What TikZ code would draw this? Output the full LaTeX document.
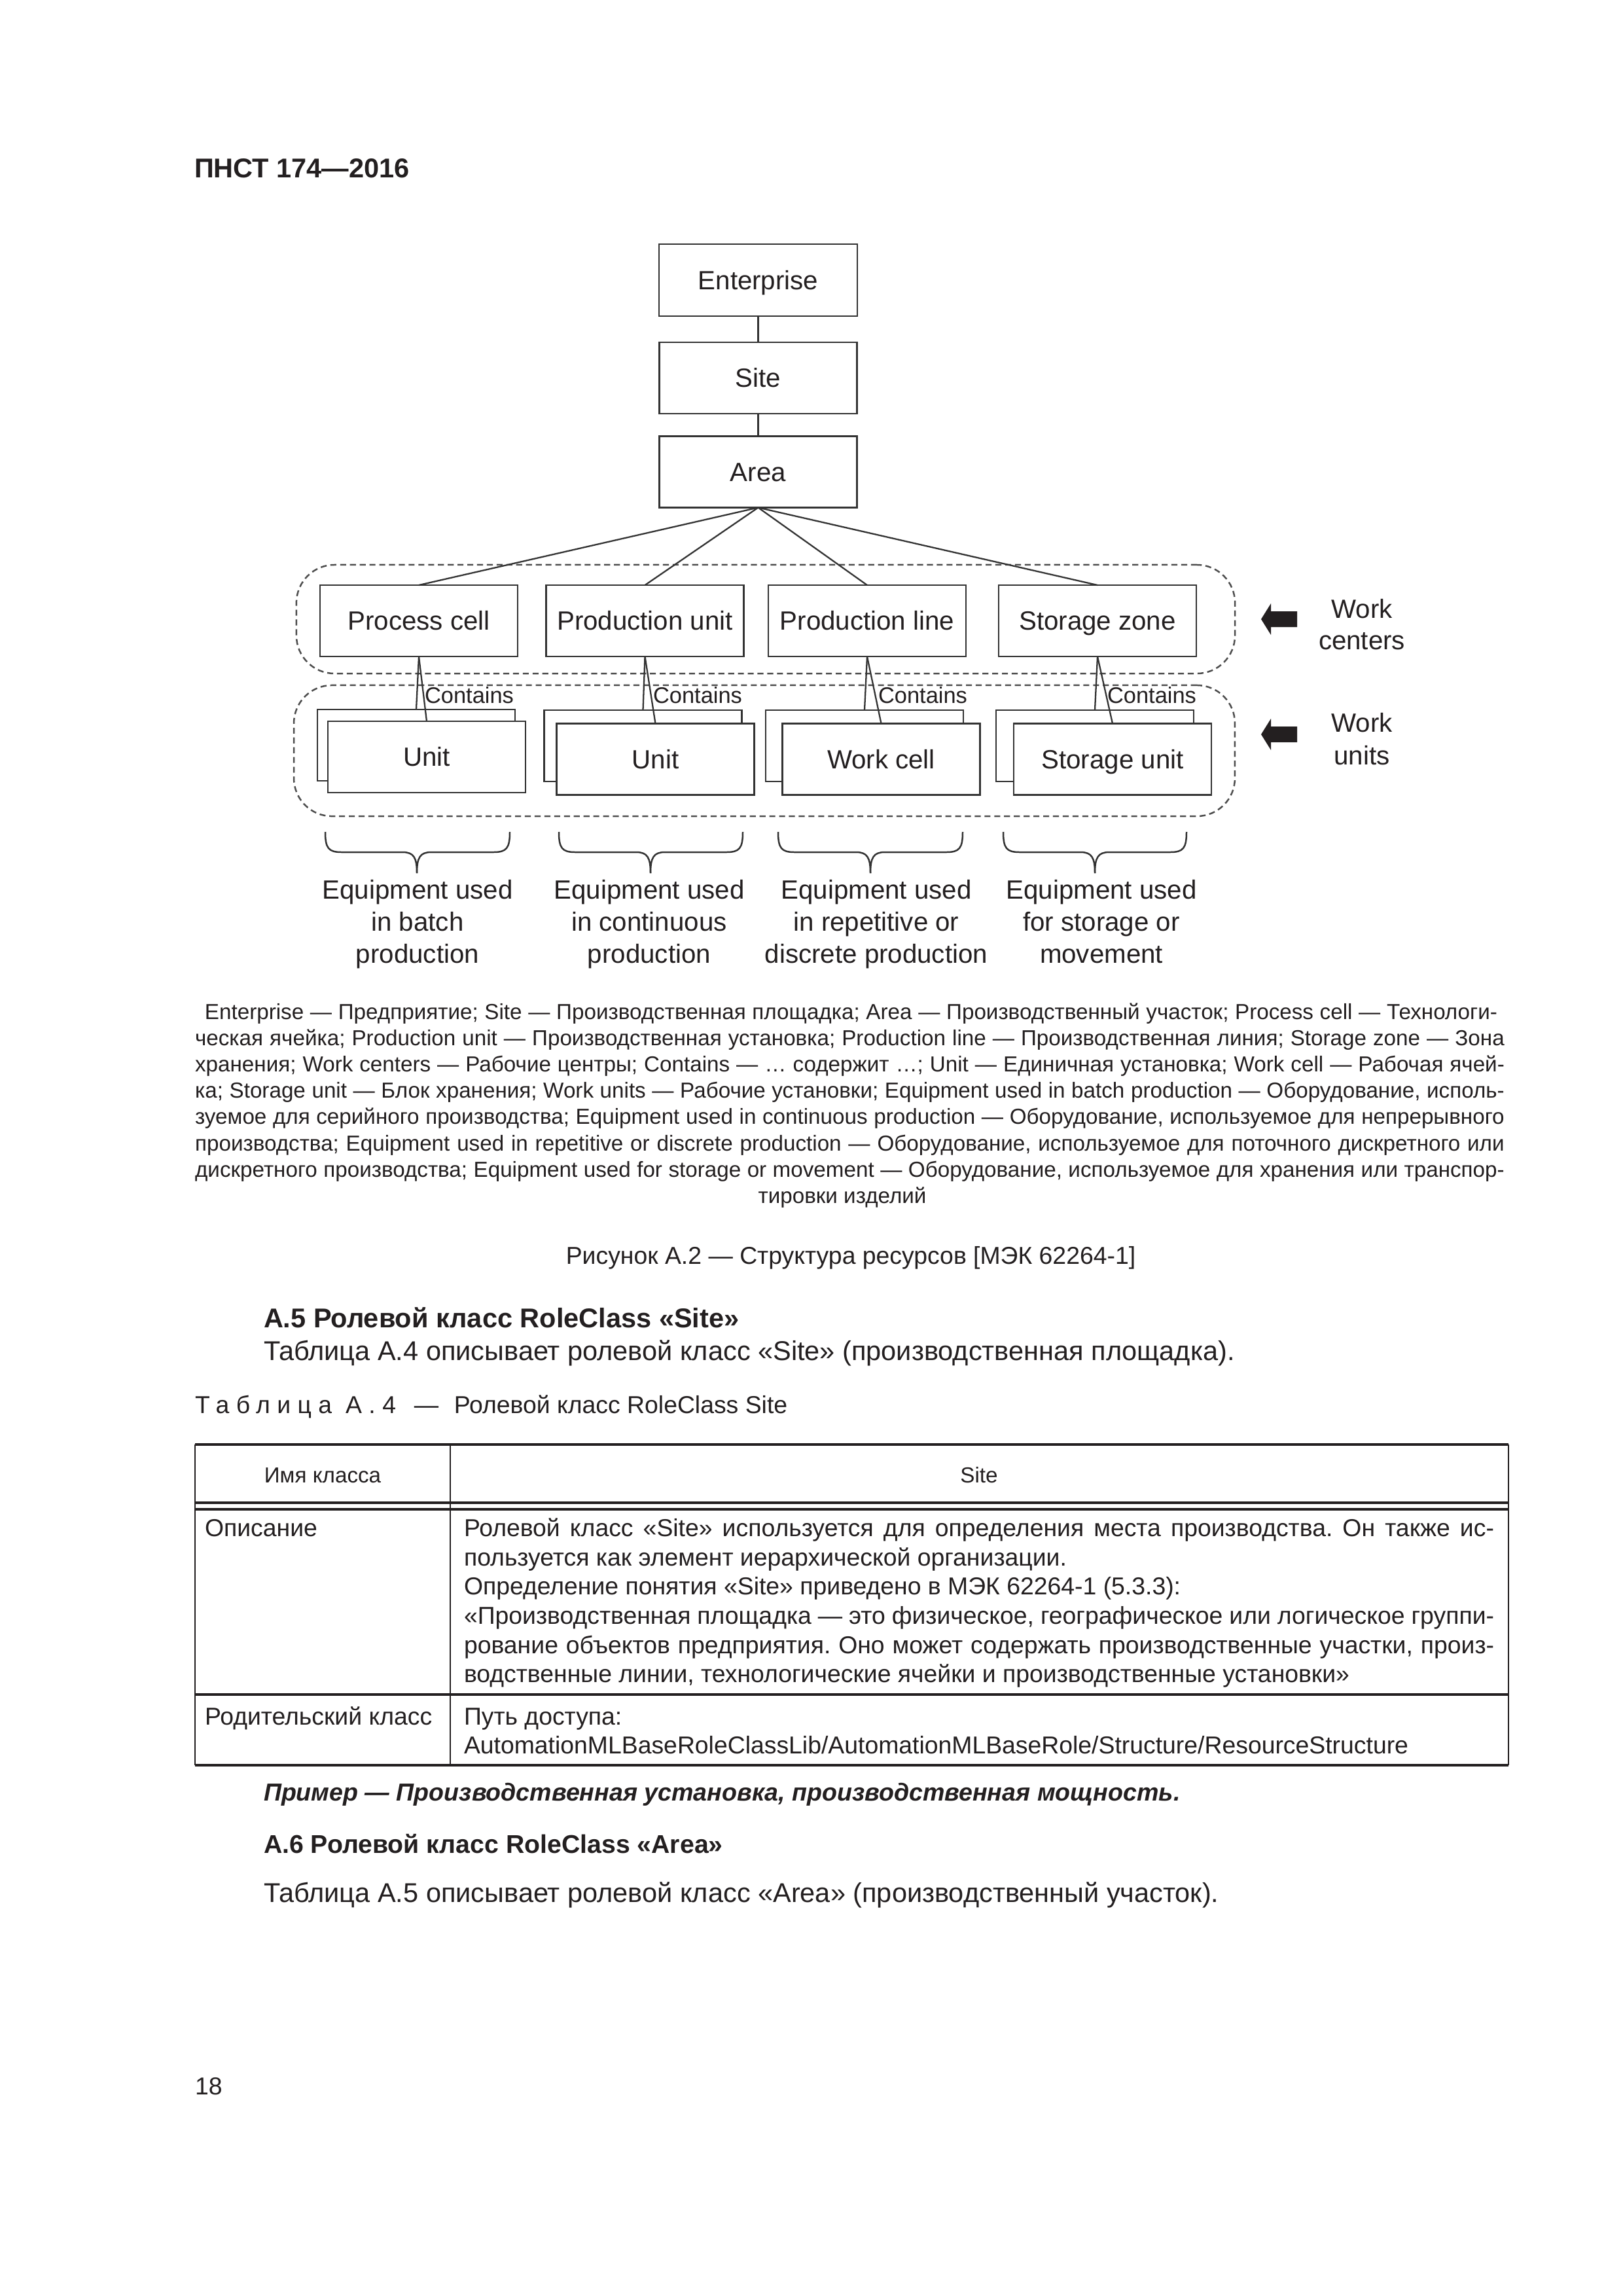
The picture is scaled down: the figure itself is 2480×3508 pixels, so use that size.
\documentclass[tikz,border=0pt]{standalone}
\usepackage{fontspec}
\setmainfont{Liberation Sans}
\definecolor{ink}{HTML}{231F20}
\definecolor{linec}{HTML}{333333}
\definecolor{dashc}{HTML}{4D4D4D}
\newcommand\setfs[2]{\fontsize{#1}{#2}\selectfont}
\frenchspacing
\begin{document}
\begin{tikzpicture}[x=0.0846667mm,y=-0.0846667mm,
  every node/.style={inner sep=0pt, outer sep=0pt, text=ink},
  box/.style={draw=linec, line width=0.7pt, fill=white, minimum width=72.75pt, minimum height=26.26pt,
    font=\setfs{9.7pt}{11.8pt}, text height=6.95pt, text depth=0pt},
  conn/.style={draw=linec, line width=0.55pt},
  grp/.style={draw=dashc, line width=0.6pt, dash pattern=on 2.2pt off 1.4pt, rounded corners=14pt},
  dlbl/.style={font=\setfs{9.7pt}{11.8pt}},
  clbl/.style={font=\setfs{8.3pt}{10pt}},
  brace/.style={draw=linec, line width=0.6pt},
  blockarrow/.style={fill=ink, draw=none},
  body/.style={font=\setfs{10pt}{12pt}},
  bodyb/.style={font=\bfseries\setfs{10pt}{12pt}},
  lgd/.style={font=\setfs{8pt}{9.6pt}},
  figcap/.style={font=\setfs{9pt}{11pt}},
  th/.style={font=\setfs{8pt}{10pt}},
  tb/.style={font=\setfs{9pt}{10.7pt}},
  tline/.style={draw=ink, line width=1pt},
  tvline/.style={draw=ink, line width=0.6pt}
]
\useasboundingbox (0,0) rectangle (2480,3508);
\fill[white] (0,0) rectangle (2480,3508);

% header
\node[bodyb, anchor=base west] (hdr) at (297,271) {ПНСТ 174—2016};

% ---------- diagram ----------
\node[grp, minimum width=345.5pt, minimum height=40pt] (wcg) at (1170,946) {};
\node[grp, minimum width=346.4pt, minimum height=48.2pt] (wug) at (1168,1147) {};

\node[box, minimum width=73pt, minimum height=26.5pt] (ent) at (1158.5,428) {Enterprise};
\node[box] (site) at (1158.5,577.5) {Site};
\node[box] (area) at (1158.5,721) {Area};

\node[box] (pc) at (640,948.5) {Process cell};
\node[box] (pu) at (985.5,948.5) {Production unit};
\node[box] (pl) at (1325,948.5) {Production line};
\node[box] (sz) at (1677,948.5) {Storage zone};

\node[box] (pcb) at (636,1138.5) {};
\node[box] (pub) at (982.5,1139.5) {};
\node[box] (plb) at (1321,1139.5) {};
\node[box] (szb) at (1673,1139.5) {};

\node[box] (pcf) at (652,1156.5) {Unit};
\node[box] (puf) at (1001.5,1160) {Unit};
\node[box] (plf) at (1346.5,1160) {Work cell};
\node[box] (szf) at (1700,1160) {Storage unit};

\draw[conn] (ent) -- (site);
\draw[conn] (site) -- (area);
\foreach \w in {pc,pu,pl,sz}{
  \draw[conn] (area.south) -- (\w.north);
  \draw[conn] (\w.south) -- (\w b.north);
  \draw[conn] (\w.south) -- (\w f.north);
}

\node[clbl, anchor=base west] (pcc) at (649,1074) {Contains};
\node[clbl, anchor=base west] (puc) at (998,1074) {Contains};
\node[clbl, anchor=base west] (plc) at (1342,1074) {Contains};
\node[clbl, anchor=base west] (szc) at (1692,1074) {Contains};

% block arrows and side labels
\fill[blockarrow] (1927,946) -- (1942,922) -- (1942,934) -- (1982,934) -- (1982,958) -- (1942,958) -- (1942,970) -- cycle;
\fill[blockarrow] (1927,1122) -- (1942,1098) -- (1942,1110) -- (1982,1110) -- (1982,1134) -- (1942,1134) -- (1942,1146) -- cycle;
\node[dlbl, anchor=base] (wc1) at (2081,944) {Work};
\node[dlbl, anchor=base] (wc2) at (2081,992) {centers};
\node[dlbl, anchor=base] (wu1) at (2081,1118) {Work};
\node[dlbl, anchor=base] (wu2) at (2081,1168) {units};

% braces
\foreach \l/\c/\r in {497/637/779, 854/994/1135, 1189/1330/1471, 1533/1673/1813}{
  \draw[brace] (\l,1271) .. controls (\l,1296) and (\l+5,1302) .. (\l+25,1302) -- (\c-22,1302)
     .. controls (\c-5,1302) and (\c,1310) .. (\c,1334);
  \draw[brace] (\r,1271) .. controls (\r,1296) and (\r-5,1302) .. (\r-25,1302) -- (\c+22,1302)
     .. controls (\c+5,1302) and (\c,1310) .. (\c,1334);
}

\node[dlbl, anchor=base] (e1a) at (638,1373) {Equipment used};
\node[dlbl, anchor=base] (e1b) at (638,1422) {in batch};
\node[dlbl, anchor=base] (e1c) at (638,1471) {production};
\node[dlbl, anchor=base] (e2a) at (992,1373) {Equipment used};
\node[dlbl, anchor=base] (e2b) at (992,1422) {in continuous};
\node[dlbl, anchor=base] (e2c) at (992,1471) {production};
\node[dlbl, anchor=base] (e3a) at (1339,1373) {Equipment used};
\node[dlbl, anchor=base] (e3b) at (1339,1422) {in repetitive or};
\node[dlbl, anchor=base] (e3c) at (1339,1471) {discrete production};
\node[dlbl, anchor=base] (e4a) at (1683,1373) {Equipment used};
\node[dlbl, anchor=base] (e4b) at (1683,1422) {for storage or};
\node[dlbl, anchor=base] (e4c) at (1683,1471) {movement};

% ---------- legend ----------
\node[lgd, anchor=base] (lg1) at (1300.5,1557) {\makebox[475.8pt][s]{Enterprise — Предприятие; Site — Производственная площадка; Area — Производственный участок; Process cell — Технологи-}};
\node[lgd, anchor=base] (lg2) at (1298.5,1597) {\makebox[482pt][s]{ческая ячейка; Production unit — Производственная установка; Production line — Производственная линия; Storage zone — Зона}};
\node[lgd, anchor=base] (lg3) at (1298.5,1637) {\makebox[482pt][s]{хранения; Work centers — Рабочие центры; Contains — … содержит …; Unit — Единичная установка; Work cell — Рабочая ячей-}};
\node[lgd, anchor=base] (lg4) at (1298.5,1677) {\makebox[482pt][s]{ка; Storage unit — Блок хранения; Work units — Рабочие установки; Equipment used in batch production — Оборудование, исполь-}};
\node[lgd, anchor=base] (lg5) at (1298.5,1717) {\makebox[482pt][s]{зуемое для серийного производства; Equipment used in continuous production — Оборудование, используемое для непрерывного}};
\node[lgd, anchor=base] (lg6) at (1298.5,1758) {\makebox[482pt][s]{производства; Equipment used in repetitive or discrete production — Оборудование, используемое для поточного дискретного или}};
\node[lgd, anchor=base] (lg7) at (1298.5,1798) {\makebox[482pt][s]{дискретного производства; Equipment used for storage or movement — Оборудование, используемое для хранения или транспор-}};
\node[lgd, anchor=base] (lg8) at (1287,1838) {тировки изделий};

\node[figcap, anchor=base] (fig) at (1300,1931) {Рисунок А.2 — Структура ресурсов [МЭК 62264-1]};

% ---------- section A.5 ----------
\node[bodyb, anchor=base west] (s5) at (403,2028) {А.5 Ролевой класс RoleClass «Site»};
\node[body, anchor=base west] (s5t) at (403,2078) {Таблица А.4 описывает ролевой класс «Site» (производственная площадка).};
\node[tb, anchor=base west] (tt) at (298,2159) {{\addfontfeature{LetterSpace=28}Таблица А.4}\hspace{6.7pt}—\hspace{5.7pt}Ролевой класс RoleClass Site};

% table
\draw[tline] (298,2207) -- (2305,2207);
\draw[tline] (298,2296) -- (2305,2296);
\draw[tline] (298,2306) -- (2305,2306);
\draw[tline] (298,2589) -- (2305,2589);
\draw[tline] (298,2697) -- (2305,2697);
\draw[tvline] (298,2207) -- (298,2697);
\draw[tvline] (688,2207) -- (688,2697);
\draw[tvline] (2305,2207) -- (2305,2697);

\node[th, anchor=base] (th1) at (493,2265) {Имя класса};
\node[th, anchor=base] (th2) at (1496,2265) {Site};

\node[tb, anchor=base west] (c1) at (313,2347) {Описание};
\node[tb, anchor=base west] (d1) at (709,2347) {\makebox[379.2pt][s]{Ролевой класс «Site» используется для определения места производства. Он также ис-}};
\node[tb, anchor=base west] (d2) at (709,2392) {пользуется как элемент иерархической организации.};
\node[tb, anchor=base west] (d3) at (709,2436) {Определение понятия «Site» приведено в МЭК 62264-1 (5.3.3):};
\node[tb, anchor=base west] (d4) at (709,2481) {\makebox[379.2pt][s]{«Производственная площадка — это физическое, географическое или логическое группи-}};
\node[tb, anchor=base west] (d5) at (709,2526) {\makebox[379.2pt][s]{рование объектов предприятия. Оно может содержать производственные участки, произ-}};
\node[tb, anchor=base west] (d6) at (709,2570) {водственные линии, технологические ячейки и производственные установки»};

\node[tb, anchor=base west] (c2) at (313,2635) {Родительский класс};
\node[tb, anchor=base west] (p1) at (709,2635) {Путь доступа:};
\node[tb, anchor=base west] (p2) at (709,2679) {AutomationMLBaseRoleClassLib/AutomationMLBaseRole/Structure/ResourceStructure};

\node[font=\bfseries\itshape\setfs{9.05pt}{11pt}, anchor=base west] (ex) at (403,2751) {Пример — Производственная установка, производственная мощность.};

% ---------- section A.6 ----------
\node[font=\bfseries\setfs{9.45pt}{11pt}, anchor=base west] (s6) at (403,2831) {А.6 Ролевой класс RoleClass «Area»};
\node[body, anchor=base west] (s6t) at (403,2906) {Таблица А.5 описывает ролевой класс «Area» (производственный участок).};

\node[tb, anchor=base west] (pg) at (298,3200) {18};
\end{tikzpicture}
\end{document}
